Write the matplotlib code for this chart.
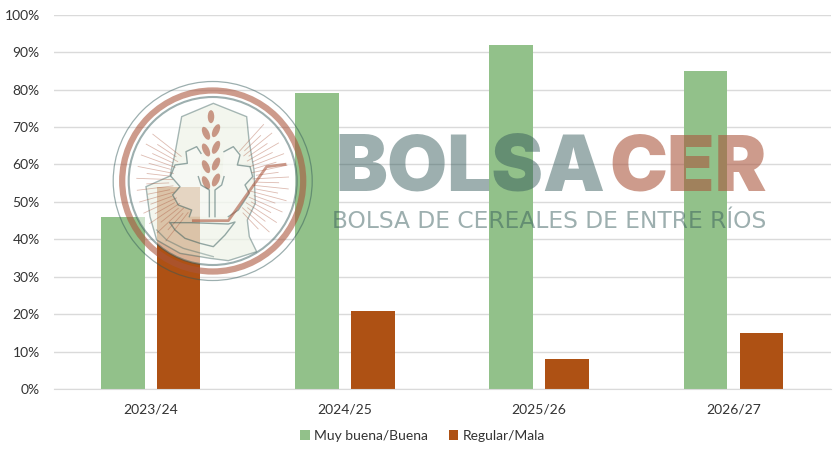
import numpy as np
import matplotlib
matplotlib.use("Agg")
import matplotlib.pyplot as plt
from matplotlib.patches import Circle, Ellipse, Polygon

campaigns = ["2023/24", "2024/25", "2025/26", "2026/27"]
good = [46, 79, 92, 85]
bad = [54, 21, 8, 15]
series_names = ["Muy buena/Buena", "Regular/Mala"]
y_ticks = [0, 10, 20, 30, 40, 50, 60, 70, 80, 90, 100]

GREEN = "#92C18A"
RUST = "#AE5114"
GRID = "#DADADA"
TEXT = "#333333"
GRAY_W = "#325858"
RED_W = "#AA553C"

W, H = 840, 453
plt.rcParams["font.family"] = ["Lato", "DejaVu Sans"]

fig = plt.figure(figsize=(W / 100, H / 100), dpi=100)
ax = fig.add_axes([53.6 / W, (H - 389.2) / H, 777 / W, 374.6 / H])

x = np.arange(len(campaigns))
bw = 0.224
off = 0.144
b1 = ax.bar(x - off, good, bw, color=GREEN, label=series_names[0], zorder=2)
b2 = ax.bar(x + off, bad, bw, color=RUST, label=series_names[1], zorder=2)

ax.set_xlim(-0.5, 3.5)
ax.set_ylim(0, 100)
ax.set_yticks(y_ticks)
ax.set_yticklabels([str(t) + "%" for t in y_ticks], fontsize=10, color=TEXT)
ax.set_xticks(x)
ax.set_xticklabels(campaigns, fontsize=10, color=TEXT)
ax.tick_params(axis="both", length=0)
ax.tick_params(axis="y", pad=10)
ax.tick_params(axis="x", pad=10)
ax.grid(axis="y", color=GRID, lw=1, zorder=0)
ax.set_axisbelow(True)
for s in ["top", "right", "left"]:
    ax.spines[s].set_visible(False)
ax.spines["bottom"].set_color(GRID)

fig.legend(handles=[b1, b2], loc="center", bbox_to_anchor=(422.5 / W, 1 - 436 / H),
           ncol=2, frameon=False, fontsize=10, labelcolor=TEXT,
           handlelength=0.7, handleheight=0.7, handletextpad=0.3, columnspacing=1.5)

# watermark, drawn over the chart in pixel coordinates
wm = fig.add_axes([0, 0, 1, 1], facecolor="none")
wm.set_xlim(0, W)
wm.set_ylim(H, 0)
wm.axis("off")

wm.text(605, 190.5, "BOLSA", ha="right", va="baseline", fontsize=56, fontweight="black",
        family="Inter", color=GRAY_W, alpha=0.48)
wm.text(609, 190.5, "CER", ha="left", va="baseline", fontsize=56, fontweight="black",
        family="Inter", color=RED_W, alpha=0.59)
wm.text(332, 228, "BOLSA DE CEREALES DE ENTRE RÍOS", ha="left", va="baseline", fontsize=16.8,
        family="DejaVu Sans", color=GRAY_W, alpha=0.48)


def z(pts):
    return [(px / 3 + 100, py / 3 + 70) for px, py in pts]


def line(pts, color, lw, alpha):
    wm.plot(*zip(*z(pts)), color=color, lw=lw, alpha=alpha, solid_joinstyle="round")


cx, cy = 212.7, 181
wm.add_patch(Circle((cx, cy), 84, fc="white", ec="none", alpha=0.55))
wm.add_patch(Circle((cx, cy), 99.5, fill=False, ec=GRAY_W, lw=0.9, alpha=0.48))
wm.add_patch(Circle((cx, cy), 90.5, fill=False, ec=RED_W, lw=4.5, alpha=0.59))
wm.add_patch(Circle((cx, cy), 84, fill=False, ec=GRAY_W, lw=1.5, alpha=0.48))

for a in np.r_[np.arange(-48, 50, 4.5), np.arange(128, 222, 4.5)]:
    r0, r1 = (40, 76) if round(a * 2) % 2 == 0 else (44, 66)
    t = np.deg2rad(a)
    wm.plot([cx + r0 * np.cos(t), cx + r1 * np.cos(t)], [cy + r0 * np.sin(t), cy + r1 * np.sin(t)],
            color=RED_W, lw=0.6, alpha=0.4)

province = z([(340, 100), (440, 140), (447, 210), (462, 300), (466, 400), (442, 450), (448, 500),
              (470, 545), (385, 572), (330, 565), (240, 550), (170, 510), (150, 440), (138, 350),
              (210, 318), (225, 250), (245, 140)])
wm.add_patch(Polygon(province, closed=True, fc="#DDE8CF", ec="none", alpha=0.35))
wm.add_patch(Polygon(province, closed=True, fill=False, ec=GRAY_W, lw=1, alpha=0.42))

gear_l = [(303, 250), (290, 230), (258, 245), (262, 280), (225, 285), (212, 318), (240, 350), (218, 375),
          (235, 405), (275, 420), (268, 440)]
gear_r = [(372, 245), (400, 230), (420, 255), (412, 285), (450, 290), (458, 320), (435, 345), (448, 370),
          (415, 420), (385, 440)]
wm.add_patch(Polygon(z(gear_l + [(330, 440), (330, 360), (303, 345)]), closed=True, fc="white", ec="none", alpha=0.3))
wm.add_patch(Polygon(z(gear_r + [(345, 440), (345, 360), (365, 340)]), closed=True, fc="white", ec="none", alpha=0.3))
line(gear_l, GRAY_W, 1, 0.5)
line(gear_r, GRAY_W, 1, 0.5)

# wheat ear
line([(295, 320), (303, 345), (328, 360), (328, 440)], GRAY_W, 1, 0.5)
line([(372, 320), (365, 345), (345, 360), (345, 440)], GRAY_W, 1, 0.5)
wm.add_patch(Ellipse(z([(333, 140)])[0], 6.5, 13, fc=RED_W, ec="none", alpha=0.59))
for gy in [190, 240, 290, 338]:
    gl, gr = z([(318, gy), (348, gy - 8)])
    wm.add_patch(Ellipse(gl, 6.5, 14, angle=-25, fc=RED_W, ec="none", alpha=0.59))
    wm.add_patch(Ellipse(gr, 6.5, 14, angle=25, fc=RED_W, ec="none", alpha=0.59))

# pipe and bowl
line([(280, 452), (385, 452), (500, 290), (555, 283)], RED_W, 2, 0.59)
line([(210, 458), (272, 458), (385, 462), (405, 456), (375, 495), (340, 530), (300, 520), (255, 505), (225, 480),
      (210, 458)], GRAY_W, 1, 0.5)
line([(170, 480), (200, 510), (250, 535), (340, 560)], GRAY_W, 1, 0.35)

fig.savefig("out.png", dpi=100)
